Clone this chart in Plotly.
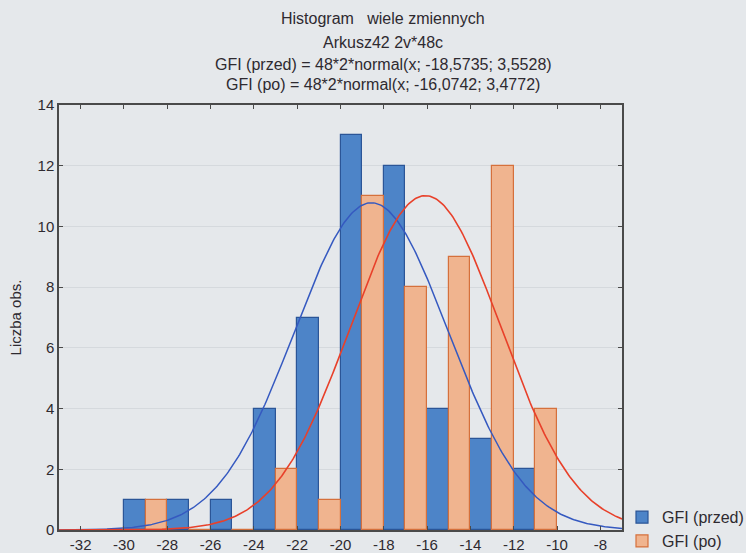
import numpy as np
import plotly.graph_objects as go

# Bin centers (bins of width 2 from -30 to -10)
bin_centers = [-29, -27, -25, -23, -21, -19, -17, -15, -13, -11]
counts_przed = [1, 1, 1, 4, 7, 13, 12, 4, 3, 2]
counts_po = [1, 0, 0, 2, 1, 11, 8, 9, 12, 4]

# Fitted normal parameters
n_obs = 48
bin_width = 2
mean_przed, sd_przed = -18.5735, 3.5528
mean_po, sd_po = -16.0742, 3.4772

x_ticks = list(range(-32, -7, 2))
x_tick_labels = [str(v) for v in x_ticks]
y_ticks = list(range(0, 15, 2))

title_lines = [
    "Histogram   wiele zmiennych",
    "Arkusz42 2v*48c",
    "GFI (przed) = 48*2*normal(x; -18,5735; 3,5528)",
    "GFI (po) = 48*2*normal(x; -16,0742; 3,4772)",
]


def normal_curve(x, mu, sd):
    return n_obs * bin_width * np.exp(-0.5 * ((x - mu) / sd) ** 2) / (sd * np.sqrt(2 * np.pi))


xs = np.linspace(-33, -7, 400)

BLUE_FILL = "#4d84c8"
BLUE_EDGE = "#2b5597"
ORANGE_FILL = "#f0b48f"
ORANGE_EDGE = "#d5703c"
BG = "#e5e8eb"
AXIS = "#4a4a4a"
TEXT = "#2e2a30"

fig = go.Figure()
fig.add_trace(go.Bar(
    x=bin_centers, y=counts_przed, name="GFI (przed)",
    marker=dict(color=BLUE_FILL, line=dict(color=BLUE_EDGE, width=1.2)),
))
fig.add_trace(go.Bar(
    x=bin_centers, y=counts_po, name="GFI (po)",
    marker=dict(color=ORANGE_FILL, line=dict(color=ORANGE_EDGE, width=1.2)),
))
fig.add_trace(go.Scatter(
    x=xs, y=normal_curve(xs, mean_przed, sd_przed), mode="lines",
    line=dict(color="#3559c0", width=1.5), showlegend=False, hoverinfo="skip",
))
fig.add_trace(go.Scatter(
    x=xs, y=normal_curve(xs, mean_po, sd_po), mode="lines",
    line=dict(color="#e8402a", width=1.6), showlegend=False, hoverinfo="skip",
))

# Title block: four centered lines above the plot area
plot_top, plot_bottom = 105, 530
line_centers_px = [18, 42, 64, 84]
for text, ypx in zip(title_lines, line_centers_px):
    fig.add_annotation(
        text=text, xref="paper", yref="paper",
        x=(383 - 59) / (622 - 59), y=(plot_bottom - ypx) / (plot_bottom - plot_top),
        xanchor="center", yanchor="middle", showarrow=False,
        font=dict(size=16, color=TEXT),
    )

fig.update_layout(
    width=746, height=553,
    margin=dict(l=59, r=124, t=105, b=23, autoexpand=False),
    paper_bgcolor=BG, plot_bgcolor=BG,
    barmode="group", bargap=0, bargroupgap=0,
    font=dict(family="Liberation Sans, Arial, sans-serif", size=14, color=TEXT),
    xaxis=dict(range=[-33, -7], tickvals=x_ticks, ticktext=x_tick_labels,
               ticks="inside", ticklen=4, tickcolor=AXIS, showline=True,
               linecolor=AXIS, linewidth=1.5, mirror="ticks", showgrid=False,
               zeroline=False, tickfont=dict(size=15)),
    yaxis=dict(range=[0, 14], tickvals=y_ticks, ticks="inside", ticklen=4,
               tickcolor=AXIS, showline=True, linecolor=AXIS, linewidth=1.5,
               mirror="ticks", showgrid=True, gridcolor="#d5d9dd", gridwidth=1,
               zeroline=False, tickfont=dict(size=15),
               title=dict(text="Liczba obs.", standoff=12, font=dict(size=15))),
    legend=dict(x=1.0, xanchor="left", y=0.07, yanchor="top", bgcolor="rgba(0,0,0,0)",
                font=dict(size=16), tracegroupgap=0, itemwidth=30),
)

fig.write_html("out.html")
